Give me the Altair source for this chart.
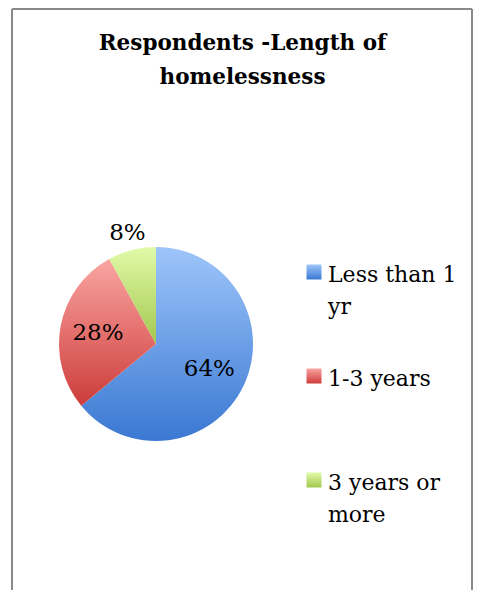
import altair as alt
import pandas as pd

# ---- data ----
categories = ["Less than 1 yr", "1-3 years", "3 years or more"]
values = [64, 28, 8]
pct_labels = ["64%", "28%", "8%"]
legend_lines = [["Less than 1", "yr"], ["1-3 years"], ["3 years or", "more"]]
title_lines = ["Respondents -Length of", "homelessness"]

df = pd.DataFrame({
    "cat": categories,
    "value": values,
    "label": pct_labels,
    "lines": legend_lines,
    "idx": list(range(len(categories))),
})

# ---- styles ----
def grad(top, bottom):
    return {"gradient": "linear", "x1": 0, "y1": 0, "x2": 0, "y2": 1,
            "stops": [{"offset": 0, "color": top}, {"offset": 1, "color": bottom}]}

G_BLUE = grad("#9EC5FA", "#3A78D2")
G_RED = grad("#FAA5A2", "#CD3C3A")
G_GREEN = grad("#E0FBA9", "#A3C74E")

fill = alt.Fill(
    condition=[
        {"test": f"datum.cat === '{categories[0]}'", "value": G_BLUE},
        {"test": f"datum.cat === '{categories[1]}'", "value": G_RED},
    ],
    value=G_GREEN,
)

W, H = 461, 582
CX, CY, R = 144, 336, 97
FONT = "DejaVu Serif"

theta_scale = alt.Scale(domain=[0, 100])

pie = alt.Chart(df).mark_arc(outerRadius=R, stroke=None).encode(
    theta=alt.Theta("value:Q", stack=True, scale=theta_scale),
    order=alt.Order("idx:Q"),
    fill=fill,
    x=alt.value(CX), y=alt.value(CY),
)

label_base = alt.Chart(df).transform_window(
    cum="sum(value)", sort=[{"field": "idx"}], frame=[None, 0]
).transform_calculate(
    mid="datum.cum - datum.value / 2"
)

labels_in = label_base.transform_filter("datum.value >= 10").mark_text(
    font=FONT, fontSize=23, color="#000000", align="center", baseline="middle"
).encode(
    theta=alt.Theta("mid:Q", stack=None, scale=theta_scale),
    radius=alt.value(59),
    text="label:N",
    x=alt.value(CX), y=alt.value(CY),
)

labels_out = label_base.transform_filter("datum.value < 10").mark_text(
    font=FONT, fontSize=23, color="#000000", align="center", baseline="middle"
).encode(
    theta=alt.Theta("mid:Q", stack=None, scale=theta_scale),
    radius=alt.value(115),
    text="label:N",
    x=alt.value(CX), y=alt.value(CY),
)

ypos = alt.Y("cat:N", scale=alt.Scale(type="point", domain=categories, range=[264, 472], padding=0), axis=None)

leg_sym = alt.Chart(df).mark_square(size=225, stroke=None, opacity=1).encode(
    x=alt.value(302),
    y=ypos,
    fill=fill,
)

leg_txt = alt.Chart(df).mark_text(
    font=FONT, fontSize=22, color="#000000", align="left", baseline="alphabetic",
    lineHeight=32, dy=10,
).encode(
    x=alt.value(316),
    y=ypos,
    text=alt.Text("lines"),
)

dummy = pd.DataFrame({"d": [0]})
border_style = dict(color="#898989", strokeWidth=2)
left = alt.Chart(dummy).mark_rule(**border_style).encode(x=alt.value(0), y=alt.value(1), y2=alt.value(H))
right = alt.Chart(dummy).mark_rule(**border_style).encode(x=alt.value(W - 1), y=alt.value(1), y2=alt.value(H))
top = alt.Chart(dummy).mark_rule(**border_style).encode(x=alt.value(0), x2=alt.value(W - 1), y=alt.value(1))

chart = alt.layer(pie, labels_in, labels_out, leg_sym, leg_txt, left, right, top).properties(
    width=W, height=H,
    title=alt.Title(title_lines, font=FONT, fontSize=21.5, fontWeight="bold", color="#000000",
                    anchor="middle", baseline="alphabetic", lineHeight=34, offset=-97),
    autosize=alt.AutoSizeParams(type="none"),
    padding={"left": 4, "top": 0, "right": 1, "bottom": 0},
).configure_view(stroke=None)

chart.save("out.html", embed_options={"renderer": "svg", "actions": False})
